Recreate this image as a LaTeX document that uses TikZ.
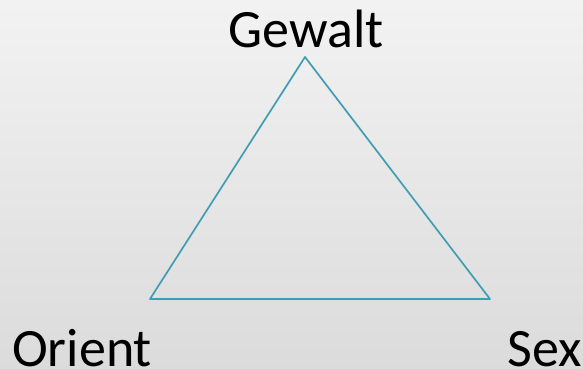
\documentclass[tikz,border=0pt]{standalone}
\usepackage{fontspec}
\setmainfont{Carlito}
\definecolor{tri}{HTML}{3D9DB5}
\begin{document}
\begin{tikzpicture}[x=1pt,y=-1pt,
  lbl/.style={inner sep=0pt,font=\fontsize{54}{62}\selectfont,text=black},
  edge/.style={draw=tri,line width=1.6pt,line join=round}]
\shade[top color=black!5,bottom color=black!14] (0,0) rectangle (583,368);
\useasboundingbox (0,0) rectangle (583,368);
\coordinate (top) at (305,57);
\coordinate (left) at (150,299);
\coordinate (right) at (490,299);
\draw[black!20,line width=2pt,opacity=0.5,shift={(1.5pt,-2pt)}] (top) -- (left) -- (right) -- cycle;
\draw[edge] (top) -- (left) -- (right) -- cycle;
\node[lbl,anchor=base] (g) at (306,47) {Gewalt};
\node[lbl,anchor=base west] (o) at (12,366) {Orient};
\node[lbl,anchor=base east] (s) at (582,366) {Sex};
\end{tikzpicture}
\end{document}
